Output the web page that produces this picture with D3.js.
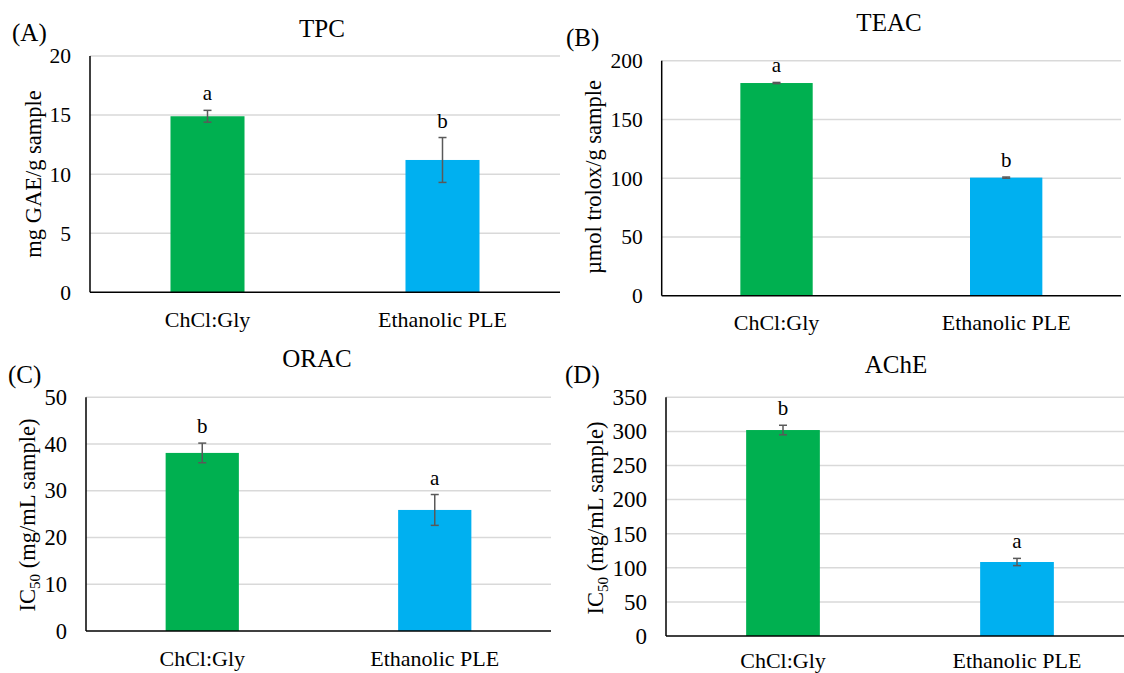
<!DOCTYPE html>
<html>
<head>
  <meta charset="utf-8">
  <title>TPC, TEAC, ORAC and AChE</title>
  <style>
    body {
      margin: 0;
      padding: 0;
      background: white;
      font-family: "Liberation Serif", "Times New Roman", serif;
    }
    svg text {
      font-family: "Liberation Serif", "Times New Roman", serif;
      fill: black;
    }
    .grid line {
      stroke: #d9d9d9;
      stroke-width: 1.5;
    }
    .axis-line {
      stroke: black;
      stroke-width: 1.5;
    }
    .err {
      stroke: #595959;
      stroke-width: 1.5;
    }
  </style>
</head>
<body>
  <div id="chart"></div>

  <script src="https://d3js.org/d3.v7.min.js"></script>
  <script>

  // data
  var categories = ["ChCl:Gly", "Ethanolic PLE"]
  var barColors = ["#00b050", "#00b0f0"]

  var tpcValues = [14.9, 11.2],
      tpcErrors = [0.5, 1.9],
      tpcLetters = ["a", "b"],
      tpcTicks = [0, 5, 10, 15, 20]

  var teacValues = [181, 100.5],
      teacErrors = [0.5, 0.5],
      teacLetters = ["a", "b"],
      teacTicks = [0, 50, 100, 150, 200]

  var oracValues = [38.1, 25.9],
      oracErrors = [2.1, 3.3],
      oracLetters = ["b", "a"],
      oracTicks = [0, 10, 20, 30, 40, 50]

  var acheValues = [302, 108.5],
      acheErrors = [7, 5.3],
      acheLetters = ["b", "a"],
      acheTicks = [0, 50, 100, 150, 200, 250, 300, 350]

  var width = 1124,
      height = 673

  var svg = d3.select("#chart")
      .append("svg")
      .attr("width", width)
      .attr("height", height)

  // layout of the four panels
  var panels = [
    { tag: "(A)", tagX: 12, tagY: 41, title: "TPC", titleX: 322, titleY: 37,
      ylabel: ["mg GAE/g sample"], ylabelX: 33, ylabelY: 174,
      left: 90, right: 560, top: 56, bottom: 292.3, tickFont: 21.5, xPad: 19,
      values: tpcValues, errors: tpcErrors, letters: tpcLetters, ticks: tpcTicks },
    { tag: "(B)", tagX: 566, tagY: 46, title: "TEAC", titleX: 889, titleY: 31,
      ylabel: ["µmol trolox/g sample"], ylabelX: 593, ylabelY: 177,
      left: 661.7, right: 1121, top: 60.7, bottom: 295.7, tickFont: 21.5, xPad: 19,
      values: teacValues, errors: teacErrors, letters: teacLetters, ticks: teacTicks },
    { tag: "(C)", tagX: 8, tagY: 383, title: "ORAC", titleX: 317, titleY: 367,
      ylabel: ["IC", "50", " (mg/mL sample)"], ylabelX: 27, ylabelY: 515,
      left: 86, right: 551, top: 397.3, bottom: 631, tickFont: 22.5, xPad: 19,
      values: oracValues, errors: oracErrors, letters: oracLetters, ticks: oracTicks },
    { tag: "(D)", tagX: 565, tagY: 383, title: "AChE", titleX: 896, titleY: 373,
      ylabel: ["IC", "50", " (mg/mL sample)"], ylabelX: 595, ylabelY: 518,
      left: 666, right: 1134, top: 397.3, bottom: 636, tickFont: 23, xPad: 16,
      values: acheValues, errors: acheErrors, letters: acheLetters, ticks: acheTicks }
  ]

  panels.forEach(drawPanel)

  function drawPanel(p) {
    var g = svg.append("g")

    var x = d3.scaleBand()
        .domain(categories)
        .range([p.left, p.right])
        .padding(0)

    var y = d3.scaleLinear()
        .domain([0, d3.max(p.ticks)])
        .range([p.bottom, p.top])

    var barW = x.bandwidth() * 0.315

    // gridlines
    g.append("g")
        .attr("class", "grid")
        .selectAll("line")
        .data(p.ticks.filter(function (d) { return d > 0 }))
        .enter().append("line")
        .attr("x1", p.left)
        .attr("x2", p.right)
        .attr("y1", function (d) { return y(d) })
        .attr("y2", function (d) { return y(d) })

    // bars
    g.append("g")
        .selectAll("rect")
        .data(p.values)
        .enter().append("rect")
        .attr("x", function (d, i) { return x(categories[i]) + x.bandwidth() / 2 - barW / 2 })
        .attr("width", barW)
        .attr("y", function (d) { return y(d) })
        .attr("height", function (d) { return y(0) - y(d) })
        .style("fill", function (d, i) { return barColors[i] })

    // error bars
    var err = g.append("g")
        .selectAll("g")
        .data(p.values)
        .enter().append("g")
        .attr("class", "err")

    err.append("line")
        .attr("x1", function (d, i) { return x(categories[i]) + x.bandwidth() / 2 })
        .attr("x2", function (d, i) { return x(categories[i]) + x.bandwidth() / 2 })
        .attr("y1", function (d, i) { return y(d + p.errors[i]) })
        .attr("y2", function (d, i) { return y(d - p.errors[i]) })

    ;[1, -1].forEach(function (s) {
      err.append("line")
          .attr("x1", function (d, i) { return x(categories[i]) + x.bandwidth() / 2 - 4 })
          .attr("x2", function (d, i) { return x(categories[i]) + x.bandwidth() / 2 + 4 })
          .attr("y1", function (d, i) { return y(d + s * p.errors[i]) })
          .attr("y2", function (d, i) { return y(d + s * p.errors[i]) })
    })

    // significance letters
    g.append("g")
        .selectAll("text")
        .data(p.values)
        .enter().append("text")
        .attr("x", function (d, i) { return x(categories[i]) + x.bandwidth() / 2 })
        .attr("y", function (d, i) { return y(d + p.errors[i]) - 10 })
        .attr("text-anchor", "middle")
        .style("font-size", "21px")
        .text(function (d, i) { return p.letters[i] })

    // y axis
    g.append("g")
        .attr("transform", "translate(" + p.left + ",0)")
        .call(d3.axisLeft(y).tickValues(p.ticks).tickSize(0).tickPadding(19))
        .call(function (a) { a.select(".domain").remove() })
        .selectAll("text")
        .style("font-size", p.tickFont + "px")

    // x axis
    g.append("g")
        .attr("transform", "translate(0," + p.bottom + ")")
        .call(d3.axisBottom(x).tickSize(0).tickPadding(p.xPad))
        .call(function (a) { a.select(".domain").remove() })
        .selectAll("text")
        .style("font-size", "22px")

    // axis lines
    g.append("line")
        .attr("class", "axis-line")
        .attr("x1", p.left).attr("x2", p.left)
        .attr("y1", p.top).attr("y2", p.bottom)
    g.append("line")
        .attr("class", "axis-line")
        .attr("x1", p.left).attr("x2", p.right)
        .attr("y1", p.bottom).attr("y2", p.bottom)

    // y axis title
    var yt = g.append("text")
        .attr("transform", "translate(" + p.ylabelX + "," + p.ylabelY + ") rotate(-90)")
        .attr("text-anchor", "middle")
        .attr("dy", "0.35em")
        .style("font-size", "22.5px")

    if (p.ylabel.length === 1) {
      yt.text(p.ylabel[0])
    } else {
      yt.append("tspan").text(p.ylabel[0])
      yt.append("tspan").attr("dy", 5).style("font-size", "15px").text(p.ylabel[1])
      yt.append("tspan").attr("dy", -5).text(p.ylabel[2])
    }

    // title and panel tag
    g.append("text")
        .attr("x", p.titleX)
        .attr("y", p.titleY)
        .attr("text-anchor", "middle")
        .style("font-size", "25px")
        .text(p.title)

    g.append("text")
        .attr("x", p.tagX)
        .attr("y", p.tagY)
        .style("font-size", "25px")
        .text(p.tag)
  }

  </script>
</body>
</html>
